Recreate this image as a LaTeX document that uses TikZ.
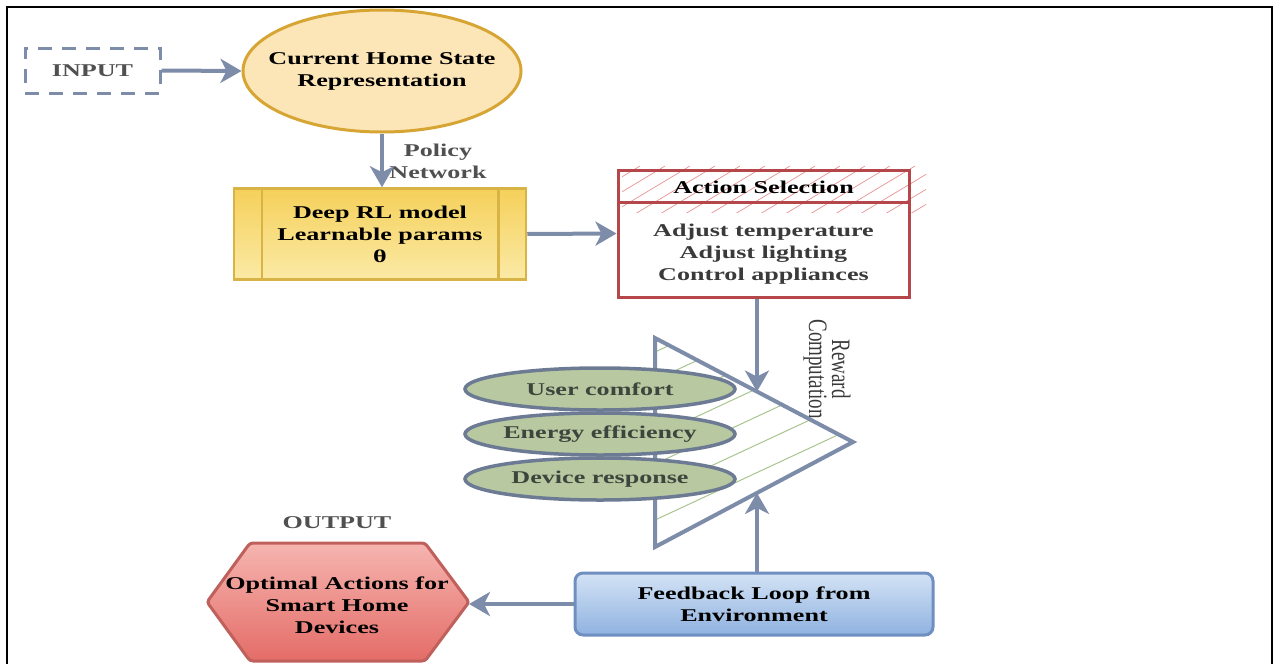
\documentclass[tikz,border=0pt]{standalone}
\usepackage{fontspec}
\setmainfont{Liberation Serif}[FakeStretch=1.45]
\newfontfamily\rotserif{Liberation Serif}
\usetikzlibrary{shapes.geometric,arrows.meta,calc}

\definecolor{slate}{HTML}{7D8CA8}
\definecolor{textgray}{HTML}{505050}
\definecolor{bodygray}{HTML}{3A3A3A}
\definecolor{curfill}{HTML}{FCE6B8}
\definecolor{curborder}{HTML}{D6A534}
\definecolor{deeptop}{HTML}{F5D05A}
\definecolor{deepbot}{HTML}{FBEAA6}
\definecolor{deepborder}{HTML}{D8B447}
\definecolor{actborder}{HTML}{B5474A}
\definecolor{acthatch}{HTML}{E89090}
\definecolor{trihatch}{HTML}{A9C48F}
\definecolor{ellfill}{HTML}{B8C9A1}
\definecolor{ellborder}{HTML}{6C7B93}
\definecolor{elltext}{HTML}{3D463D}
\definecolor{fbtop}{HTML}{D4E3F5}
\definecolor{fbbot}{HTML}{8FB2E0}
\definecolor{fbborder}{HTML}{6F8FC0}
\definecolor{hextop}{HTML}{F6B5B0}
\definecolor{hexbot}{HTML}{E46C67}
\definecolor{hexborder}{HTML}{C0605C}

\begin{document}
\begin{tikzpicture}[x=1pt,y=-1pt,
  every node/.style={font=\fontsize{18}{22}\selectfont\bfseries, align=center, inner sep=0pt},
  arr/.style={draw=slate, line width=4pt, -{Stealth[length=21pt,width=24pt,inset=6pt]}},
  evalbox/.style={ellipse, draw=ellborder, fill=ellfill, line width=3.5pt,
    inner xsep=-14pt, minimum width=270pt, minimum height=42pt, text=elltext}]

\useasboundingbox (0,0) rectangle (1274,664);
\draw[line width=2.5pt] (7,664) -- (7,7) -- (1272,7) -- (1272,664);

% reward label, partly covered by the triangle edge
\node[font=\fontsize{19}{23}\selectfont\rotserif, text=bodygray, rotate=-90] (rew) at (827,369)
  {\scalebox{1}[1.4]{Reward}\\\scalebox{1}[1.4]{Computation}};

% reward computation triangle
\coordinate (tA) at (655,338);
\coordinate (tB) at (853,442);
\coordinate (tC) at (655,547);
\fill[white] (tA) -- (tB) -- (tC) -- cycle;
\begin{scope}
  \clip (tA) -- (tB) -- (tC) -- cycle;
  \foreach \b in {352,380,408,436,464,492,520,546}
    \draw[trihatch, line width=1pt] (640,\b+7) -- ++(260,-121);
\end{scope}
\draw[slate, line width=4pt] (tA) -- (tB) -- (tC) -- cycle;
\coordinate (rtop) at ($(tA)!0.515!(tB)$);
\coordinate (rbot) at ($(tC)!0.515!(tB)$);

% input and state
\node[draw=slate, line width=3pt, dash pattern=on 14pt off 10pt,
  minimum width=135pt, minimum height=45pt, text=textgray] (inp) at (92.5,70.5) {INPUT};
\node[ellipse, draw=curborder, fill=curfill, line width=3pt, inner xsep=-16pt,
  minimum width=278pt, minimum height=122pt] (cur) at (382,71) {Current Home State\\Representation};
\node[text=textgray] (pol) at (438,161) {Policy\\Network};

% deep RL model
\node[draw=deepborder, top color=deeptop, bottom color=deepbot, line width=2.5pt,
  minimum width=292pt, minimum height=91pt] (deep) at (380,234) {Deep RL model\\Learnable params\\θ};
\draw[deepborder, line width=2.5pt] ([xshift=29pt]deep.north west) -- ([xshift=29pt]deep.south west);
\draw[deepborder, line width=2.5pt] ([xshift=-29pt]deep.north east) -- ([xshift=-29pt]deep.south east);

% action selection
\begin{scope}
  \clip (622,164) rectangle (926,212);
  \foreach \x in {560,585,...,940}
    \draw[acthatch, line width=0.7pt] (\x,214) -- ++(80,-48);
\end{scope}
\node[draw=actborder, line width=3pt, minimum width=291pt, minimum height=127pt] (act) at (763.5,233.5) {};
\draw[actborder, line width=3pt] ([yshift=-34pt]act.north west) -- ([yshift=-34pt]act.north east);
\node[text=black] (acth) at (763.5,187) {Action Selection};
\node[text=bodygray] (actb) at (763.5,254.5) {Adjust temperature\\Adjust lighting\\Control appliances};

% reward terms
\node[evalbox] (uc) at (600,389) {User comfort};
\node[evalbox] (ee) at (600,434) {Energy efficiency};
\node[evalbox] (dr) at (600,479) {Device response};

% feedback and output
\node[draw=fbborder, rounded corners=8pt, top color=fbtop, bottom color=fbbot, line width=3pt,
  minimum width=358pt, minimum height=62pt] (fb) at (754,604) {Feedback Loop from\\Environment};
\coordinate (hexR) at (469,602);
\path[draw=hexborder, line width=3pt, top color=hextop, bottom color=hexbot, rounded corners=3pt]
  (207,602) -- (250,543) -- (425,543) -- (hexR) -- (425,661) -- (250,661) -- cycle;
\node[text=black] (hex) at (337,605) {Optimal Actions for\\Smart Home\\Devices};
\node[text=textgray] (outl) at (337,523) {OUTPUT};

% connectors
\draw[arr] (inp.east) -- (cur.west);
\draw[arr] (cur.south) -- (cur.south |- deep.north);
\draw[arr] (deep.east) -- (act.west);
\draw[arr] (rtop |- act.south) -- (rtop);
\draw[arr] (rbot |- fb.north) -- (rbot);
\draw[arr] (fb.west) -- (fb.west -| hexR);
\end{tikzpicture}
\end{document}
